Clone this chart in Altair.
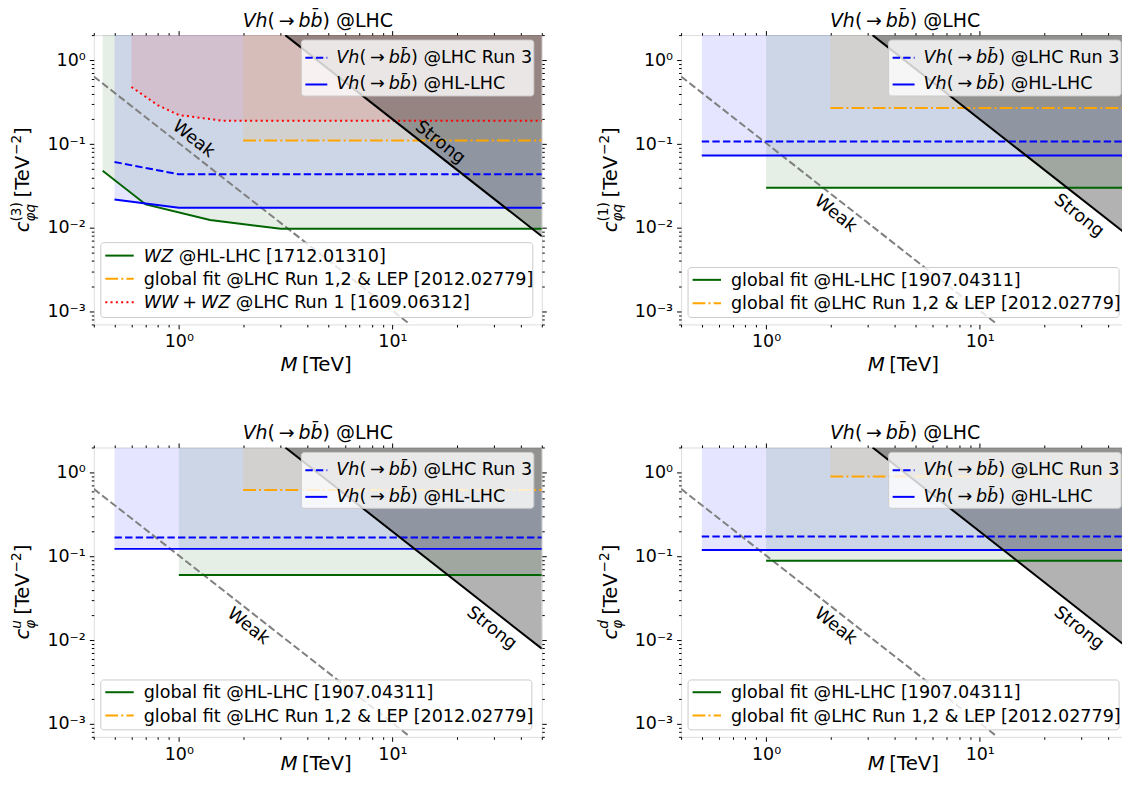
import altair as alt
import pandas as pd

FONT = "DejaVu Sans"

# ---------------- axes ----------------
X_DOMAIN = [0.4, 50]
Y_DOMAIN = [7e-4, 2]
X_TICKS = [0.4, 0.5, 0.6, 0.7, 0.8, 0.9, 1, 2, 3, 4, 5, 6, 7, 8, 9, 10, 20, 30, 40, 50]
Y_TICKS = [7e-4, 8e-4, 9e-4, 1e-3, 2e-3, 3e-3, 4e-3, 5e-3, 6e-3, 7e-3, 8e-3, 9e-3,
           1e-2, 2e-2, 3e-2, 4e-2, 5e-2, 6e-2, 7e-2, 8e-2, 9e-2,
           0.1, 0.2, 0.3, 0.4, 0.5, 0.6, 0.7, 0.8, 0.9, 1, 2]

# ---------------- common lines ----------------
weak_x = [0.4, 12.1]
weak_y = [0.64, 7.0e-4]
strong_x = [3.15, 50]
strong_y = [2.0, 0.0079]

# ---------------- panel 1: c_phi q^(3) ----------------
p1_green_x = [0.44, 0.7, 1.4, 3.0, 50]
p1_green_y = [0.048, 0.019, 0.0124, 0.0097, 0.0097]
p1_blue_x = [0.5, 1.0, 50]
p1_hl_y = [0.0218, 0.0173, 0.0173]
p1_run3_y = [0.061, 0.0435, 0.0435]
p1_orange_x = [2, 50]
p1_orange_y = [0.11, 0.11]
p1_red_x = [0.6, 0.8, 1.0, 1.6, 50]
p1_red_y = [0.48, 0.29, 0.222, 0.19, 0.19]

# ---------------- panel 2: c_phi q^(1) ----------------
p2_blue_x = [0.5, 50]
p2_hl_y = [0.073, 0.073]
p2_run3_y = [0.107, 0.107]
p2_green_x = [1, 50]
p2_green_y = [0.030, 0.030]
p2_orange_x = [2, 50]
p2_orange_y = [0.27, 0.27]

# ---------------- panel 3: c_phi^u ----------------
p3_blue_x = [0.5, 50]
p3_hl_y = [0.123, 0.123]
p3_run3_y = [0.168, 0.168]
p3_green_x = [1, 50]
p3_green_y = [0.060, 0.060]
p3_orange_x = [2, 50]
p3_orange_y = [0.62, 0.62]

# ---------------- panel 4: c_phi^d ----------------
p4_blue_x = [0.5, 50]
p4_hl_y = [0.119, 0.119]
p4_run3_y = [0.173, 0.173]
p4_green_x = [1, 50]
p4_green_y = [0.089, 0.089]
p4_orange_x = [2, 50]
p4_orange_y = [0.90, 0.90]

# label positions (data coords) for "Weak"/"Strong"
p1_weak_pos = [1.17, 0.114]
p1_strong_pos = [16.7, 0.104]
pX_weak_pos = [2.11, 0.0146]
pX_strong_pos = [29.1, 0.0139]

# ---------------- texts ----------------
BB = "bb\u0304"
TITLE_SEGS = [("i", "Vh"), ("n", "("), ("gap", 0.2), ("n", "→"), ("gap", 0.2), ("i", BB), ("n", ") @LHC")]
XTITLE_SEGS = [("i", "M"), ("gap", 0.22), ("n", "[TeV]")]
Y_SUP = ["(3)", "(1)", "u", "d"]
Y_SUP_IT = [False, False, True, True]
Y_SUB = ["φq", "φq", "φ", "φ"]
LEG_RUN3 = [("i", "Vh"), ("n", "("), ("gap", 0.22), ("n", "→"), ("gap", 0.22), ("i", BB), ("n", ") @LHC Run 3")]
LEG_HL = [("i", "Vh"), ("n", "("), ("gap", 0.22), ("n", "→"), ("gap", 0.22), ("i", BB), ("n", ") @HL-LHC")]
LEG_WZ = [("i", "WZ"), ("n", " @HL-LHC [1712.01310]")]
LEG_GLOBAL_OLD = [("n", "global fit @LHC Run 1,2 & LEP [2012.02779]")]
LEG_WWWZ = [("i", "WW"), ("gap", 0.22), ("n", "+"), ("gap", 0.22), ("i", "WZ"), ("n", " @LHC Run 1 [1609.06312]")]
LEG_GLOBAL_HL = [("n", "global fit @HL-LHC [1907.04311]")]

# ---------------- colours ----------------
BLUE = "#0000ff"
GREEN = "#006400"
ORANGE = "#ffa500"
RED = "#ff0000"
GRAY = "#808080"
DASHED = [7.4, 3.2]
DASHDOT = [12.8, 3.2, 2, 3.2]
DOTTED = [2, 3.3]

W, H = 449, 290
LEG_FS = 17.6
TICK_FS = 17.5
XS = alt.Scale(type="log", domain=X_DOMAIN)
YS = alt.Scale(type="log", domain=Y_DOMAIN)

EM = {' ': 0.318, '(': 0.390, ')': 0.390, '+': 0.838, ',': 0.318, '-': 0.361, '.': 0.318,
      '@': 1.0, '&': 0.780, '[': 0.390, ']': 0.390, '→': 0.838, '−': 0.838, '\u0304': 0.0,
      'φ': 0.668, 'C': 0.698, 'E': 0.632, 'H': 0.752, 'L': 0.557, 'M': 0.863, 'P': 0.603,
      'R': 0.695, 'T': 0.611, 'V': 0.684, 'W': 0.989, 'Z': 0.686, 'a': 0.613, 'b': 0.635,
      'c': 0.550, 'd': 0.635, 'e': 0.615, 'f': 0.352, 'g': 0.635, 'h': 0.634, 'i': 0.278,
      'k': 0.579, 'l': 0.278, 'n': 0.634, 'o': 0.612, 'q': 0.635, 'r': 0.411, 's': 0.521,
      't': 0.392, 'u': 0.634}
for _d in "0123456789":
    EM[_d] = 0.636


def tw(s, fs):
    return fs * sum(EM.get(c, 0.6) for c in s)


def rich(segs, x0, y0, fs, angle=0, center=False):
    items = []
    pos = 0.0
    for seg in segs:
        k = seg[0]
        if k == "gap":
            pos += seg[1] * fs
        elif k in ("n", "i"):
            txt = seg[1]
            lead = len(txt) - len(txt.lstrip(" "))
            pos += lead * EM[" "] * fs          # SVG drops leading blanks: advance instead
            txt = txt.lstrip(" ")
            items.append((pos, 0.0, txt, fs, k == "i"))
            pos += tw(txt, fs)
        elif k == "sup":
            s = 0.7 * fs
            items.append((pos, 0.42 * fs, seg[1], s, seg[2]))
            pos += tw(seg[1], s)
        elif k == "stack":
            s = 0.7 * fs
            items.append((pos, 0.45 * fs, seg[1], s, seg[2]))
            items.append((pos, -0.27 * fs, seg[3], s, seg[4]))
            pos += max(tw(seg[1], s), tw(seg[3], s))
    start = -pos / 2 if center else 0.0
    if angle == 270:
        d, u = (0, -1), (-1, 0)
    else:
        d, u = (1, 0), (0, -1)
    rows = []
    for a, up, t, s, it in items:
        al = start + a
        rows.append(dict(px=x0 + al * d[0] + up * u[0], py=y0 + al * d[1] + up * u[1],
                         t=t, fs=s, it=it, ang=angle))
    return rows


def text_layers(rows):
    df = pd.DataFrame(rows)
    out = []
    for it, style in ((False, "normal"), (True, "italic")):
        sub = df[df["it"] == it].drop(columns=["it"])
        if len(sub) == 0:
            continue
        out.append(alt.Chart(sub).mark_text(align="left", baseline="alphabetic", font=FONT,
                                            fontStyle=style, color="black").encode(
            x=alt.X("px:Q", scale=None, axis=None),
            y=alt.Y("py:Q", scale=None, axis=None),
            text="t:N",
            size=alt.Size("fs:Q", scale=None, legend=None),
            angle=alt.Angle("ang:Q", scale=None, legend=None)))
    return out


def fill(x, y, color, op=0.1):
    df = pd.DataFrame({"x": x, "y": y, "top": [Y_DOMAIN[1]] * len(x)})
    return alt.Chart(df).mark_area(fill=color, fillOpacity=op, clip=True, orient="vertical").encode(
        x=alt.X("x:Q", scale=XS, axis=None), y=alt.Y("y:Q", scale=YS, axis=None), y2="top:Q")


def line(x, y, color, dash=None):
    df = pd.DataFrame({"x": x, "y": y})
    kw = dict(color=color, strokeWidth=2, clip=True)
    if dash:
        kw["strokeDash"] = dash
    return alt.Chart(df).mark_line(**kw).encode(
        x=alt.X("x:Q", scale=XS, axis=None), y=alt.Y("y:Q", scale=YS, axis=None))


def label(pos, text):
    df = pd.DataFrame({"x": [pos[0]], "y": [pos[1]], "t": [text]})
    return alt.Chart(df).mark_text(angle=38.1, font=FONT, fontSize=LEG_FS, color="black",
                                   align="center", baseline="middle").encode(
        x=alt.X("x:Q", scale=XS, axis=None), y=alt.Y("y:Q", scale=YS, axis=None), text="t:N")


def box(x1, x2, y1, y2):
    df = pd.DataFrame({"x1": [x1], "x2": [x2], "y1": [y1], "y2": [y2]})
    return alt.Chart(df).mark_rect(fill="white", fillOpacity=0.8, stroke="#cccccc", strokeWidth=1,
                                   cornerRadius=3).encode(
        x=alt.X("x1:Q", scale=None, axis=None), x2="x2:Q",
        y=alt.Y("y1:Q", scale=None, axis=None), y2="y2:Q")


def handle(x1, x2, y, color, dash=None):
    df = pd.DataFrame({"x1": [x1], "x2": [x2], "y": [y]})
    kw = dict(color=color, strokeWidth=2)
    if dash:
        kw["strokeDash"] = dash
    return alt.Chart(df).mark_rule(**kw).encode(
        x=alt.X("x1:Q", scale=None, axis=None), x2="x2:Q", y=alt.Y("y:Q", scale=None, axis=None))


COND_X = {"condition": {"test": "indexof([1,10], datum.value) >= 0", "value": 4.5}, "value": 2.5}
COND_Y = {"condition": {"test": "indexof([0.001,0.01,0.1,1], datum.value) >= 0", "value": 4.5}, "value": 2.5}
XLAB = "datum.value == 1 ? '10⁰' : datum.value == 10 ? '10¹' : ''"
YLAB = ("datum.value == 1 ? '10⁰' : datum.value == 0.1 ? '10⁻¹' : datum.value == 0.01 ? '10⁻²' : "
        "datum.value == 0.001 ? '10⁻³' : ''")


def axis(orient, values, tsize, lexpr, labels):
    kw = dict(orient=orient, values=values, tickSize=tsize, tickColor="black", tickWidth=1,
              domain=False, grid=False, title=None, labels=labels)
    if labels:
        kw.update(labelExpr=lexpr, labelFont=FONT, labelFontSize=TICK_FS, labelColor="black",
                  labelPadding=4, labelOverlap=False, labelFlush=False, labelBound=False)
    return alt.Axis(**kw)


def axes_layer(main):
    df = pd.DataFrame({"x": strong_x, "y": strong_y})
    ox, oy = ("bottom", "left") if main else ("top", "right")
    return alt.Chart(df).mark_line(opacity=0).encode(
        x=alt.X("x:Q", scale=XS, axis=axis(ox, X_TICKS, COND_X, XLAB, main)),
        y=alt.Y("y:Q", scale=YS, axis=axis(oy, Y_TICKS, COND_Y, YLAB, main)))


def panel(idx, blue_x, hl_y, run3_y, green_x, green_y, orange_x, orange_y,
          red_x=None, red_y=None, weak_pos=None, strong_pos=None, xtitle_y=336.7):
    layers = [axes_layer(True), axes_layer(False)]
    layers.append(fill(green_x, green_y, GREEN))
    layers.append(fill(blue_x, hl_y, BLUE))
    if red_x:
        layers.append(fill(red_x, red_y, RED))
    layers.append(fill(orange_x, orange_y, ORANGE))
    layers.append(fill(strong_x, strong_y, "black", 0.3))
    layers.append(line(weak_x, weak_y, GRAY, DASHED))
    layers.append(line(green_x, green_y, GREEN))
    layers.append(line(blue_x, hl_y, BLUE))
    layers.append(line(blue_x, run3_y, BLUE, DASHED))
    layers.append(line(orange_x, orange_y, ORANGE, DASHDOT))
    if red_x:
        layers.append(line(red_x, red_y, RED, DOTTED))
    layers.append(line(strong_x, strong_y, "black"))
    layers.append(label(weak_pos, "Weak"))
    layers.append(label(strong_pos, "Strong"))

    rows = []
    # upper-right legend
    layers.append(box(208, 441, 5, 61))
    layers.append(handle(212, 234, 22.8, BLUE, DASHED))
    layers.append(handle(212, 234, 49.5, BLUE))
    rows += rich(LEG_RUN3, 243, 27.8, LEG_FS)
    rows += rich(LEG_HL, 243, 54.4, LEG_FS)
    # lower-left legend
    if red_x:
        layers.append(box(7, 440, 208, 283))
        ys = [221, 244.3, 267.7]
        layers.append(handle(11.5, 40, ys[0], GREEN))
        layers.append(handle(11.5, 40, ys[1], ORANGE, DASHDOT))
        layers.append(handle(11.5, 40, ys[2], RED, DOTTED))
        for segs, yy in zip([LEG_WZ, LEG_GLOBAL_OLD, LEG_WWWZ], ys):
            rows += rich(segs, 50, yy + 6, LEG_FS)
    else:
        layers.append(box(7, 439, 233, 283))
        ys = [245.3, 268.7]
        layers.append(handle(11.5, 40, ys[0], GREEN))
        layers.append(handle(11.5, 40, ys[1], ORANGE, DASHDOT))
        for segs, yy in zip([LEG_GLOBAL_HL, LEG_GLOBAL_OLD], ys):
            rows += rich(segs, 50, yy + 6, LEG_FS)
    # titles
    rows += rich(TITLE_SEGS, W / 2, -8.5, 19, center=True)
    rows += rich(XTITLE_SEGS, W / 2, xtitle_y, 19.8, center=True)
    ysegs = [("i", "c"), ("stack", Y_SUP[idx], Y_SUP_IT[idx], Y_SUB[idx], True), ("gap", 0.25),
             ("n", "[TeV"), ("gap", -0.12), ("sup", "−2", False), ("n", "]")]
    rows += rich(ysegs, -64.5, H / 2, 19.5, angle=270, center=True)
    layers += text_layers(rows)

    return alt.layer(*layers).properties(width=W, height=H).resolve_axis(x="independent", y="independent")


p1 = panel(0, p1_blue_x, p1_hl_y, p1_run3_y, p1_green_x, p1_green_y, p1_orange_x, p1_orange_y,
           p1_red_x, p1_red_y, p1_weak_pos, p1_strong_pos)
p2 = panel(1, p2_blue_x, p2_hl_y, p2_run3_y, p2_green_x, p2_green_y, p2_orange_x, p2_orange_y,
           weak_pos=pX_weak_pos, strong_pos=pX_strong_pos)
p3 = panel(2, p3_blue_x, p3_hl_y, p3_run3_y, p3_green_x, p3_green_y, p3_orange_x, p3_orange_y,
           weak_pos=pX_weak_pos, strong_pos=pX_strong_pos, xtitle_y=323.5)
p4 = panel(3, p4_blue_x, p4_hl_y, p4_run3_y, p4_green_x, p4_green_y, p4_orange_x, p4_orange_y,
           weak_pos=pX_weak_pos, strong_pos=pX_strong_pos, xtitle_y=323.5)

chart = alt.concat(p1, p2, p3, p4, columns=2, spacing={"row": 123.3, "column": 139.6},
                   bounds="flush").properties(
    padding={"left": 1, "top": 2.3, "right": -13.5, "bottom": -1.3}
).configure_view(stroke="black", strokeWidth=1.3).configure(background="white")

chart.save("out.html", embed_options={"renderer": "svg", "actions": False})
